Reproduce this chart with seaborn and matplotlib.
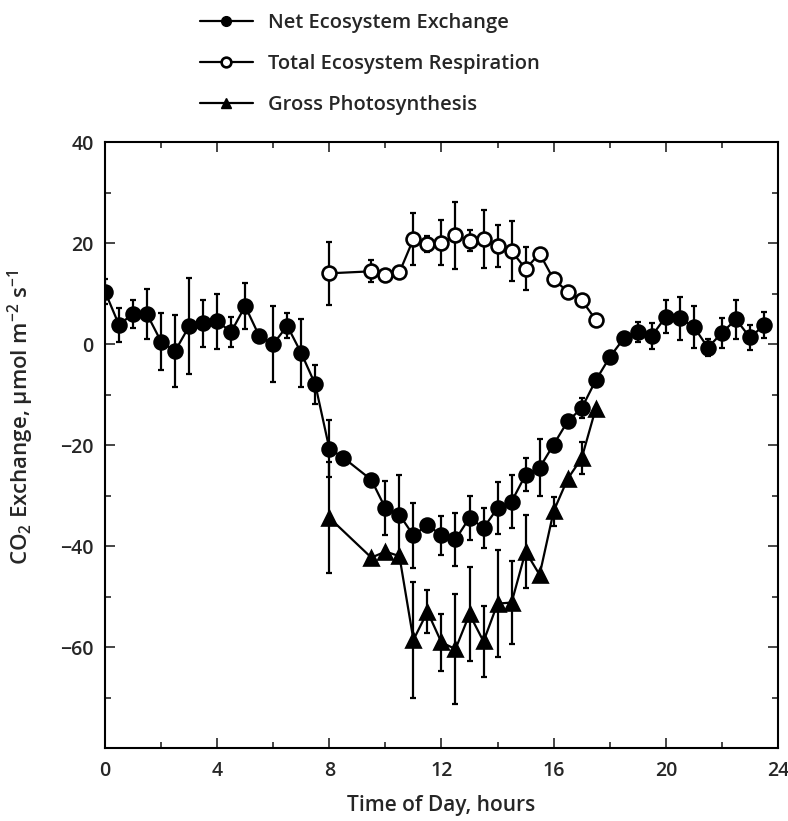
import numpy as np
import pandas as pd
import matplotlib
matplotlib.use("Agg")
import matplotlib.pyplot as plt
from matplotlib.lines import Line2D
from matplotlib.ticker import MultipleLocator
import seaborn as sns

# ---- data ----
nee_hours = [0, 0.5, 1, 1.5, 2, 2.5, 3, 3.5, 4, 4.5, 5, 5.5, 6, 6.5, 7, 7.5, 8, 8.5,
             9.5, 10, 10.5, 11, 11.5, 12, 12.5, 13, 13.5, 14, 14.5, 15, 15.5, 16, 16.5,
             17, 17.5, 18, 18.5, 19, 19.5, 20, 20.5, 21, 21.5, 22, 22.5, 23, 23.5]
nee_values = [10.4, 3.8, 6.0, 5.9, 0.5, -1.4, 3.5, 4.1, 4.5, 2.4, 7.5, 1.6, 0.0, 3.6, -1.8,
              -8.0, -20.7, -22.5, -26.9, -32.5, -33.8, -37.9, -35.8, -37.9, -38.7, -34.4,
              -36.4, -32.5, -31.2, -25.9, -24.5, -19.9, -15.3, -12.7, -7.2, -2.6, 1.1, 2.4,
              1.6, 5.4, 5.1, 3.4, -0.7, 2.2, 4.9, 1.3, 3.7]
nee_err = [2.5, 3.4, 2.8, 4.9, 5.6, 7.1, 9.5, 4.7, 5.4, 3.0, 4.5, 0, 7.6, 2.5, 6.8,
           3.9, 5.6, 0, 0, 5.4, 7.9, 6.4, 0, 3.9, 5.3, 4.4,
           4.0, 5.2, 5.3, 3.3, 5.6, 0, 0, 2.0, 0, 0, 0, 2.0,
           2.5, 3.3, 4.3, 4.1, 1.7, 3.0, 3.9, 2.5, 2.6]

ter_hours = [8, 9.5, 10, 10.5, 11, 11.5, 12, 12.5, 13, 13.5, 14, 14.5, 15, 15.5, 16, 16.5, 17, 17.5]
ter_values = [14.0, 14.4, 13.6, 14.2, 20.8, 19.8, 20.1, 21.5, 20.5, 20.8, 19.4, 18.4, 14.9,
              17.9, 12.8, 10.4, 8.7, 4.8]
ter_err = [6.2, 2.2, 0, 0, 5.2, 1.5, 4.4, 6.6, 2.1, 5.7, 4.1, 5.9, 4.3, 0, 0, 0, 0, 0]

gp_hours = [8, 9.5, 10, 10.5, 11, 11.5, 12, 12.5, 13, 13.5, 14, 14.5, 15, 15.5, 16, 16.5, 17, 17.5]
gp_values = [-34.4, -42.3, -41.1, -42.0, -58.6, -53.0, -59.1, -60.4, -53.5, -58.9, -51.4,
             -51.2, -41.1, -45.7, -33.1, -26.7, -22.6, -12.8]
gp_err = [11.0, 0, 0, 0, 11.5, 4.3, 5.6, 10.9, 9.3, 7.1, 10.6, 8.3, 7.2, 0, 2.9, 0, 3.1, 0]

labels = ["Net Ecosystem Exchange", "Total Ecosystem Respiration", "Gross Photosynthesis"]
x_ticks = [0, 4, 8, 12, 16, 20, 24]
y_ticks = [-60, -40, -20, 0, 20, 40]

# ---- style ----
sns.set_style("ticks")
plt.rcParams['font.family'] = ['Open Sans', 'DejaVu Sans']
plt.rcParams['font.weight'] = 'semibold'
plt.rcParams['axes.labelweight'] = 'semibold'
plt.rcParams['mathtext.fontset'] = 'custom'
plt.rcParams['mathtext.rm'] = 'Open Sans:semibold'
plt.rcParams['mathtext.it'] = 'Open Sans:italic:semibold'

fig = plt.figure(figsize=(7.88, 8.21), dpi=100)
ax = fig.add_axes([0.1332, 0.0889, 0.9873 - 0.1332, 0.827 - 0.0889])

series = [
    (nee_hours, nee_values, nee_err, 'o', 'black'),
    (ter_hours, ter_values, ter_err, 'o', 'white'),
    (gp_hours, gp_values, gp_err, '^', 'black'),
]

for (xs, ys, es, mk, fc), lab in zip(series, labels):
    df = pd.DataFrame({"hour": xs, "value": ys})
    ax.errorbar(xs, ys, yerr=es, fmt='none', ecolor='black', elinewidth=1.6,
                capsize=2.5, capthick=1.6, zorder=2)
    sns.lineplot(data=df, x="hour", y="value", ax=ax, color='black', linewidth=1.6,
                 marker=mk, markersize=10 if mk == 'o' else 10.5,
                 markerfacecolor=fc, markeredgecolor='black', markeredgewidth=1.9,
                 zorder=3, legend=False)

ax.set_xlim(0, 24)
ax.set_ylim(-80, 40)
ax.set_xticks(x_ticks)
ax.set_yticks(y_ticks)
ax.xaxis.set_minor_locator(MultipleLocator(2))
ax.yaxis.set_minor_locator(MultipleLocator(10))
ax.tick_params(which='both', direction='in', top=True, right=True, width=1.2)
ax.tick_params(which='major', length=7, labelsize=14)
ax.tick_params(which='minor', length=4)
ax.tick_params(axis='x', which='major', pad=9)
ax.tick_params(axis='y', which='major', pad=8)
for s in ax.spines.values():
    s.set_linewidth(1.5)
    s.set_color('black')

ax.set_xlabel("Time of Day, hours", fontsize=15)
ax.set_ylabel(r"CO$_2$ Exchange, µmol m$^{-2}$ s$^{-1}$", fontsize=16)
ax.xaxis.set_label_coords(0.5, -0.078)
ax.yaxis.set_label_coords(-0.102, 0.545)

handles = [
    Line2D([], [], color='black', lw=1.6, marker='o', markersize=7, markerfacecolor='black', markeredgecolor='black'),
    Line2D([], [], color='black', lw=1.6, marker='o', markersize=7, markerfacecolor='white', markeredgecolor='black', markeredgewidth=1.9),
    Line2D([], [], color='black', lw=1.6, marker='^', markersize=7, markerfacecolor='black', markeredgecolor='black'),
]
fig.legend(handles, labels, loc='upper left', bbox_to_anchor=(0.231, 1.006),
           frameon=False, fontsize=14.5, handlelength=2.6, handletextpad=0.75,
           labelspacing=1.05)

fig.savefig("out.png", dpi=100)
